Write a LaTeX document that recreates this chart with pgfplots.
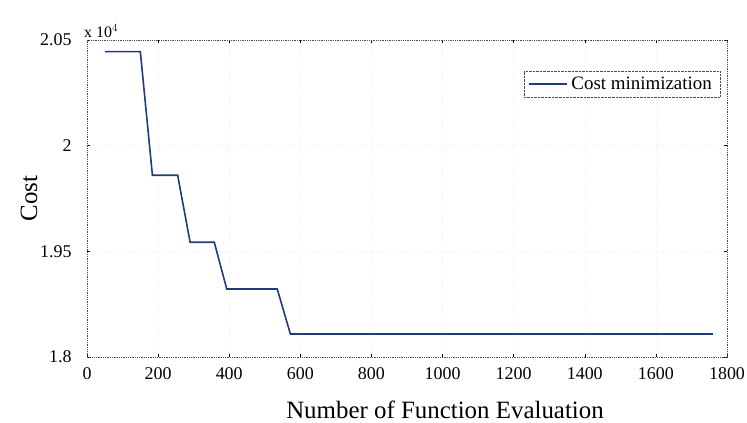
\documentclass[border=0pt]{standalone}
\usepackage{pgfplots}
\pgfplotsset{compat=1.18}
\usepackage{fontspec}
\setmainfont{Liberation Serif}
\definecolor{lineblue}{RGB}{30,60,125}
\begin{document}
\begin{tikzpicture}
\begin{axis}[
  scale only axis,
  width=640bp, height=317bp,
  xmin=0, xmax=1800, ymin=1.9, ymax=2.05,
  xtick={0,200,...,1800},
  ytick={1.9,1.95,2,2.05},
  yticklabels={1.8,1.95,2,2.05},
  /pgf/number format/assume math mode=true,
  tick label style={font=\fontsize{18}{20}\selectfont},
  xticklabel style={/pgf/number format/set thousands separator={}, yshift=-7bp},
  yticklabel style={xshift=-12bp},
  tick align=inside,
  major tick length=3bp,
  tick style={black, thin},
  axis line style={black!70, densely dotted, thick},
  grid=major,
  grid style={black!6, dotted},
  xlabel={Number of Function Evaluation},
  ylabel={Cost},
  label style={font=\fontsize{25}{28}\selectfont},
  xlabel style={yshift=-14bp, xshift=38bp},
  ylabel style={yshift=-4bp},
  legend style={at={(rel axis cs:1,1)}, anchor=north east, xshift=-7bp, yshift=-31bp,
    draw=black!70, densely dotted, font=\fontsize{19}{21}\selectfont, inner sep=4bp,
    nodes={inner xsep=4bp}},
  legend cell align=left,
  legend image code/.code={\draw[#1] (0bp,0bp) -- (38bp,0bp);},
]
\addplot[lineblue, line width=1.6bp, solid] coordinates {
(50,2.0445) (150,2.0445) (184,1.986) (255,1.986) (290,1.9543) (358,1.9543)
(393,1.9322) (535,1.9322) (572,1.9109) (1760,1.9109)
};
\addlegendentry{Cost minimization}
\end{axis}
\node[anchor=south west, font=\fontsize{16}{17}\selectfont, inner sep=1bp] at ([xshift=-4bp,yshift=1bp]current axis.north west) {x 10$^{4}$};
\pgfresetboundingbox
\path (current axis.south west)+(-87bp,-66bp) rectangle ([xshift=20bp,yshift=40bp]current axis.north east);
\end{tikzpicture}
\end{document}
